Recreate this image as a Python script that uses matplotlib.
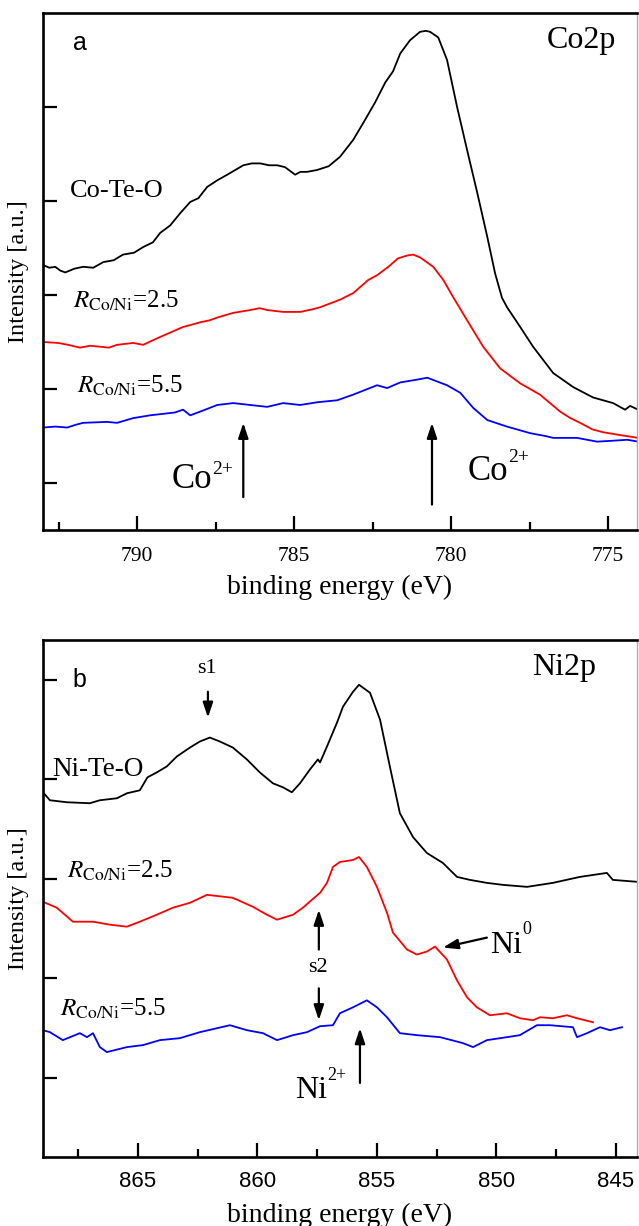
import matplotlib
matplotlib.use("Agg")
import matplotlib.pyplot as plt

plt.rcParams['font.family'] = ['Liberation Serif', 'DejaVu Serif']
plt.rcParams['mathtext.fontset'] = 'stix'

# ---- panel a : Co2p ----
co_te_o_e = [793.0, 792.80, 792.61, 792.45, 792.29, 792.00, 791.72, 791.40, 791.08, 790.75,
             790.45, 790.10, 789.81, 789.50, 789.27, 788.95, 788.63, 788.31, 788.05, 787.77,
             787.45, 787.13, 786.62, 786.35, 786.08, 785.80, 785.54, 785.29, 784.97, 784.80,
             784.59, 784.27, 783.90, 783.54, 783.12, 782.80, 782.42, 782.10, 781.85, 781.62,
             781.31, 780.99, 780.80, 780.67, 780.41, 780.13, 779.81, 779.49, 779.17, 778.85,
             778.60, 778.38, 778.22, 777.80, 777.39, 776.75, 776.11, 775.48, 774.84, 774.46,
             774.30, 774.04]
co_te_o_i = [3.32, 3.29, 3.30, 3.26, 3.24, 3.28, 3.30, 3.29, 3.35, 3.37,
             3.43, 3.45, 3.51, 3.56, 3.66, 3.74, 3.87, 3.99, 4.03, 4.15,
             4.22, 4.28, 4.38, 4.40, 4.40, 4.38, 4.38, 4.36, 4.28, 4.31,
             4.31, 4.33, 4.37, 4.47, 4.65, 4.83, 5.05, 5.26, 5.38, 5.57,
             5.71, 5.80, 5.81, 5.80, 5.74, 5.50, 5.00, 4.54, 4.09, 3.62,
             3.23, 2.97, 2.87, 2.66, 2.45, 2.17, 2.02, 1.91, 1.85, 1.78,
             1.82, 1.78]

co_r25_e = [793.0, 792.52, 792.20, 791.82, 791.50, 791.18, 790.90, 790.64, 790.13, 789.81,
            789.36, 788.95, 788.54, 788.31, 787.99, 787.70, 787.45, 786.94, 786.40, 786.10,
            785.86, 785.35, 784.81, 784.39, 784.17, 783.54, 783.12, 782.64, 782.36, 782.00,
            781.69, 781.40, 781.21, 780.99, 780.57, 780.25, 779.94, 779.49, 778.98, 778.44,
            777.80, 777.17, 776.53, 776.20, 775.89, 775.50, 775.16, 774.62, 774.04]
co_r25_i = [2.50, 2.49, 2.47, 2.44, 2.46, 2.45, 2.44, 2.47, 2.49, 2.47,
            2.54, 2.60, 2.66, 2.68, 2.71, 2.73, 2.76, 2.81, 2.84, 2.86,
            2.84, 2.82, 2.82, 2.85, 2.87, 2.95, 3.02, 3.16, 3.21, 3.30,
            3.39, 3.42, 3.43, 3.40, 3.30, 3.16, 2.98, 2.73, 2.45, 2.22,
            2.06, 1.94, 1.76, 1.69, 1.64, 1.57, 1.54, 1.51, 1.48]

co_r55_e = [793.0, 792.60, 792.23, 791.95, 791.72, 790.96, 790.64, 790.13, 789.59, 788.80,
            788.54, 788.31, 787.99, 787.45, 786.94, 786.40, 785.86, 785.35, 784.81, 784.24,
            783.63, 783.12, 782.36, 782.04, 781.62, 781.08, 780.76, 780.13, 779.71, 779.30,
            778.85, 778.22, 777.48, 777.00, 776.75, 775.99, 775.35, 774.84, 774.39, 774.04]
co_r55_i = [1.59, 1.60, 1.59, 1.62, 1.64, 1.65, 1.64, 1.69, 1.72, 1.75,
            1.78, 1.72, 1.76, 1.83, 1.85, 1.83, 1.81, 1.85, 1.83, 1.86,
            1.88, 1.94, 2.04, 2.01, 2.07, 2.10, 2.12, 2.04, 1.96, 1.80,
            1.67, 1.60, 1.53, 1.50, 1.48, 1.48, 1.44, 1.45, 1.46, 1.44]

# ---- panel b : Ni2p ----
ni_te_o_e = [868.97, 868.68, 867.97, 867.01, 866.59, 865.88, 865.46, 864.92, 864.60, 864.21,
             863.79, 863.37, 862.82, 862.41, 861.99, 861.57, 861.03, 860.44, 859.90, 859.35,
             858.93, 858.56, 858.22, 857.80, 857.47, 857.38, 857.09, 856.67, 856.42, 856.00,
             855.75, 855.29, 854.87, 854.46, 854.04, 853.49, 852.91, 852.24, 851.65, 851.11,
             850.40, 849.73, 848.72, 847.64, 846.51, 845.38, 845.13, 844.08]
ni_te_o_i = [3.87, 3.79, 3.77, 3.76, 3.79, 3.81, 3.86, 3.89, 4.02, 4.07,
             4.13, 4.23, 4.32, 4.38, 4.42, 4.38, 4.32, 4.20, 4.07, 3.96,
             3.92, 3.87, 3.96, 4.10, 4.20, 4.17, 4.33, 4.57, 4.73, 4.88,
             4.95, 4.87, 4.60, 4.13, 3.66, 3.42, 3.26, 3.16, 3.02, 2.99,
             2.96, 2.94, 2.92, 2.96, 3.02, 3.06, 2.99, 2.97]

ni_r25_e = [868.97, 868.39, 867.72, 866.88, 866.17, 865.46, 864.92, 864.21, 863.54, 862.82,
            862.11, 861.03, 860.19, 859.60, 859.18, 858.51, 858.10, 857.72, 857.38, 857.09,
            856.84, 856.55, 856.00, 855.75, 855.42, 855.00, 854.58, 854.33, 853.74, 853.33,
            852.91, 852.57, 852.07, 851.65, 851.23, 850.82, 850.27, 849.56, 849.02, 848.47,
            848.18, 847.64, 847.05, 846.63, 845.96]
ni_r25_i = [2.77, 2.71, 2.57, 2.57, 2.54, 2.52, 2.57, 2.64, 2.71, 2.76,
            2.84, 2.81, 2.72, 2.64, 2.59, 2.64, 2.71, 2.79, 2.86, 2.96,
            3.12, 3.17, 3.19, 3.22, 3.12, 2.92, 2.66, 2.46, 2.29, 2.24,
            2.27, 2.32, 2.19, 1.98, 1.81, 1.71, 1.63, 1.65, 1.60, 1.58,
            1.61, 1.60, 1.63, 1.60, 1.56]

ni_r55_e = [868.97, 868.68, 868.14, 867.43, 867.13, 866.88, 866.59, 866.30, 865.46, 864.79,
            864.08, 863.24, 862.41, 861.69, 861.15, 860.44, 859.77, 859.18, 858.51, 857.93,
            857.47, 857.38, 856.84, 856.55, 856.00, 855.42, 855.00, 854.58, 854.04, 853.33,
            852.36, 851.40, 850.98, 850.40, 849.56, 849.02, 848.31, 847.76, 846.80, 846.63,
            846.21, 845.67, 845.25, 844.75]
ni_r55_i = [1.48, 1.46, 1.38, 1.45, 1.41, 1.45, 1.31, 1.26, 1.31, 1.33,
            1.38, 1.40, 1.46, 1.50, 1.53, 1.48, 1.45, 1.38, 1.43, 1.46,
            1.51, 1.52, 1.53, 1.65, 1.71, 1.78, 1.71, 1.61, 1.45, 1.43,
            1.41, 1.35, 1.31, 1.38, 1.41, 1.43, 1.53, 1.53, 1.51, 1.41,
            1.45, 1.51, 1.48, 1.51]

y_ticks = [1, 2, 3, 4, 5]

W, H = 639, 1226
fig = plt.figure(figsize=(W / 100, H / 100), dpi=100)

def px_axes(x0, y0, x1, y1):
    return fig.add_axes([x0 / W, 1 - y1 / H, (x1 - x0) / W, (y1 - y0) / H])

ax_a = px_axes(43, 13, 637, 530)
ax_b = px_axes(43, 640, 637, 1157)

arrow_kw = dict(arrowstyle='-|>,head_length=0.9,head_width=0.3', color='black', lw=1.6,
                shrinkA=0, shrinkB=0)
r_lbl = r'$R_{\mathrm{Co/Ni}}$'


def style_axes(ax, xlim, ylim, xmajor, xminor, tick_font, tick_size, pad):
    ax.set_xlim(*xlim)
    ax.set_ylim(*ylim)
    ax.set_xticks(xmajor)
    ax.set_xticks(xminor, minor=True)
    ax.set_yticks(y_ticks)
    ax.set_yticklabels([])
    for s in ['left', 'bottom', 'top']:
        ax.spines[s].set_linewidth(1.9)
    ax.spines['right'].set_linewidth(1.0)
    ax.spines['right'].set_color('#aaaaaa')
    ax.tick_params(axis='both', which='major', direction='in', length=10, width=1.6)
    ax.tick_params(axis='x', which='minor', direction='in', length=6, width=1.6)
    ax.tick_params(axis='x', which='major', pad=pad, labelsize=tick_size,
                   labelfontfamily=tick_font)
    ax.tick_params(right=False, top=False)
    ax.set_xlabel('binding energy (eV)', fontsize=20)
    ax.set_ylabel('Intensity [a.u.]', fontsize=17.5, va='center')
    ax.yaxis.set_label_coords(-0.042, 0.5)


def ion_label(ax, x, y, base, sup, size, sup_size, dx, dy):
    ax.text(x, y, base, fontsize=size)
    ax.annotate(sup, xy=(x, y), xytext=(dx, dy), textcoords='offset points',
                fontsize=sup_size, va='baseline')


# panel a
ax_a.plot(co_te_o_e, co_te_o_i, color='black', lw=1.3)
ax_a.plot(co_r25_e, co_r25_i, color='#ff0000', lw=1.3)
ax_a.plot(co_r55_e, co_r55_i, color='#0000ff', lw=1.3)
style_axes(ax_a, (793.0, 774.08), (0.5, 6.0), [790, 785, 780, 775],
           [792.5, 787.5, 782.5, 777.5], 'Liberation Serif', 15.5, 12)
ax_a.xaxis.set_label_coords(0.5, -0.087)

ax_a.text(792.04, 5.61, 'a', fontsize=18, family='Liberation Sans')
ax_a.text(776.94, 5.63, 'Co2p', fontsize=23)
ax_a.text(792.13, 4.04, 'Co-Te-O', fontsize=19)
ax_a.text(792.04, 2.87, r_lbl + '=2.5', fontsize=18)
ax_a.text(791.91, 1.96, r_lbl + '=5.5', fontsize=18)
ax_a.annotate('', xy=(786.62, 1.64), xytext=(786.62, 0.85), arrowprops=arrow_kw)
ax_a.annotate('', xy=(780.61, 1.64), xytext=(780.61, 0.77), arrowprops=arrow_kw)
ion_label(ax_a, 788.89, 0.95, 'Co', '2+', 25, 14, 29, 10)
ion_label(ax_a, 779.46, 1.03, 'Co', '2+', 25, 14, 29, 13)

# panel b
ax_b.plot(ni_te_o_e, ni_te_o_i, color='black', lw=1.3)
ax_b.plot(ni_r25_e, ni_r25_i, color='#ff0000', lw=1.3)
ax_b.plot(ni_r55_e, ni_r55_i, color='#0000ff', lw=1.3)
style_axes(ax_b, (868.97, 844.12), (0.206, 5.40), [865, 860, 855, 850, 845],
           [867.5, 862.5, 857.5, 852.5, 847.5], 'Liberation Sans', 16, 10)
ax_b.xaxis.set_label_coords(0.5, -0.089)

ax_b.text(867.72, 4.93, 'b', fontsize=18, family='Liberation Sans')
ax_b.text(848.51, 5.05, 'Ni2p', fontsize=23)
ax_b.text(862.11, 5.07, 's1', fontsize=16, ha='center')
ax_b.annotate('', xy=(862.07, 4.62), xytext=(862.07, 4.88), arrowprops=arrow_kw)
ax_b.text(868.60, 4.03, 'Ni-Te-O', fontsize=19.5)
ax_b.text(867.97, 3.01, r_lbl + '=2.5', fontsize=18)
ax_b.text(868.26, 1.63, r_lbl + '=5.5', fontsize=18)
ax_b.text(857.47, 2.06, 's2', fontsize=16, ha='center')
ax_b.annotate('', xy=(857.43, 2.69), xytext=(857.43, 2.29), arrowprops=arrow_kw)
ax_b.annotate('', xy=(857.43, 1.58), xytext=(857.43, 1.90), arrowprops=arrow_kw)
ax_b.annotate('', xy=(855.71, 1.50), xytext=(855.71, 0.95), arrowprops=arrow_kw)
ion_label(ax_b, 858.43, 0.80, 'Ni', '2+', 23, 13, 23.5, 13)
ax_b.annotate('', xy=(852.24, 2.31), xytext=(850.40, 2.41), arrowprops=arrow_kw)
ion_label(ax_b, 850.27, 2.26, 'Ni', '0', 23, 13, 23.5, 13)

fig.savefig('out.png', dpi=100)
